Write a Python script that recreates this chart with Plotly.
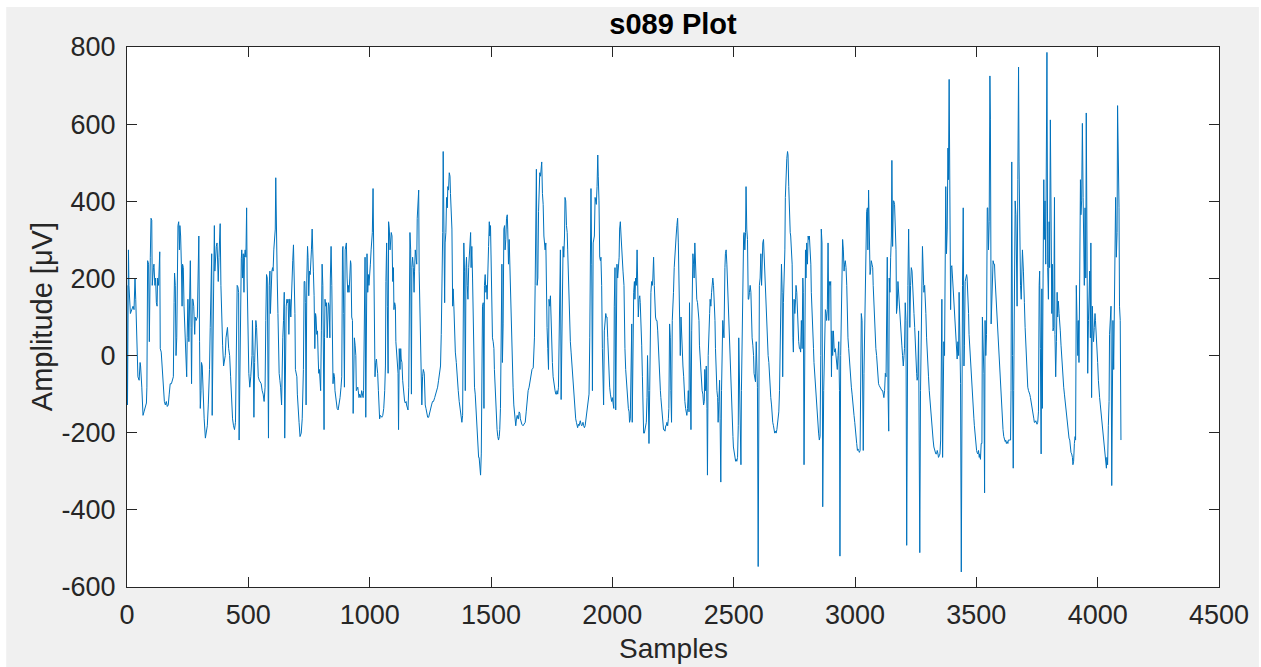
import plotly.graph_objects as go

samples = [
0,2,6,8,14,19,25,29,33,36,41,45,50,54,56,61,66,70,76,80,82,85,89,92,96,99,102,104,109,111,115,118,121,124,126,130,135,137,141,146,150,154,158,162,166,170,174,178,183,187,191,194,196,199,202,205,207,210,213,216,218,221,224,227,229,232,235,239,242,246,248,251,255,258,261,264,266,269,272,275,279,281,285,290,294,296,299,302,305,307,310,314,318,323,327,331,335,338,340,343,346,349,351,354,357,360,362,365,368,371,373,376,379,381,384,387,390,394,398,402,
405,408,412,414,419,423,427,431,435,439,443,447,451,454,457,460,462,465,468,471,473,476,479,482,484,487,490,493,495,498,502,506,510,515,517,520,523,526,528,531,534,536,541,545,549,553,557,561,565,569,572,575,578,580,583,586,589,591,594,597,600,602,605,608,611,613,616,619,622,624,627,630,633,637,639,642,645,648,650,653,656,659,661,664,667,670,672,675,678,681,683,686,689,692,694,697,700,702,705,709,713,718,722,724,727,730,733,735,738,741,744,746,749,752,755,757,760,763,766,768,771,774,777,779,782,785,788,790,793,796,798,801,804,807,809,812,
814,816,819,822,825,827,830,833,836,838,841,844,847,849,852,855,857,862,866,870,874,878,882,885,888,890,893,896,899,901,904,907,910,912,915,918,921,923,926,929,932,934,937,940,943,945,948,951,953,956,959,962,964,967,970,973,975,978,981,984,986,989,992,995,997,1000,1003,1006,1008,1011,1014,1017,1019,1022,1025,1028,1030,1033,1036,1039,1041,1044,1047,1050,1054,1058,1062,1065,1067,1070,1073,1076,1078,1081,1084,1087,1089,1092,1095,1098,1100,1103,1106,1108,1111,1114,1117,1119,1122,1125,1128,1130,1133,1136,1139,1141,1144,1147,1150,1152,1155,1158,1161,1163,1166,1169,1172,1174,1177,1180,1183,1185,1188,1191,1194,1196,1199,1202,1204,1207,1210,1213,1215,1218,1221,1225,
1226,1229,1232,1235,1239,1243,1247,1251,1255,1259,1263,1268,1272,1276,1280,1284,1288,1292,1295,1298,1301,1303,1306,1309,1311,1314,1317,1320,1322,1325,1328,1331,1333,1336,1339,1342,1344,1347,1350,1353,1357,1361,1365,1369,1373,1377,1380,1383,1386,1388,1391,1394,1397,1399,1402,1405,1408,1410,1413,1416,1418,1421,1424,1427,1429,1432,1435,1438,1440,1443,1446,1449,1451,1454,1457,1460,1462,1465,1468,1471,1473,1476,1479,1482,1484,1487,1490,1493,1495,1498,1501,1504,1506,1509,1512,1514,1517,1520,1523,1525,1528,1531,1534,1536,1539,1542,1545,1547,1550,1553,1556,1558,1561,1564,1567,1569,1572,1575,1578,1580,1583,1586,1589,1591,1594,1597,1600,1602,1605,1608,1611,1613,1616,1619,1621,1624,1627,1632,1637,
1641,1645,1649,1653,1657,1661,1665,1669,1674,1676,1679,1682,1685,1687,1690,1693,1696,1698,1701,1704,1707,1709,1712,1715,1718,1720,1723,1726,1728,1731,1734,1737,1739,1742,1745,1748,1750,1753,1756,1759,1761,1764,1767,1770,1772,1775,1778,1781,1783,1786,1789,1792,1794,1797,1800,1803,1805,1808,1811,1814,1816,1819,1822,1824,1827,1830,1833,1835,1838,1841,1844,1846,1849,1852,1855,1857,1860,1863,1866,1868,1871,1874,1877,1879,1882,1885,1888,1890,1893,1896,1899,1901,1904,1907,1910,1912,1915,1918,1921,1923,1926,1929,1932,1934,1937,1940,1942,1945,1948,1951,1953,1956,1959,1962,1964,1967,1970,1973,1975,1978,1981,1984,1986,1989,1992,1995,1997,2000,2003,2006,2008,2011,2014,2017,2019,2022,2025,2028,2030,2033,2036,2038,2041,2044,2048,
2049,2052,2055,2058,2060,2063,2066,2069,2071,2074,2077,2080,2082,2085,2088,2091,2093,2096,2099,2102,2104,2107,2110,2113,2115,2118,2121,2124,2126,2129,2132,2134,2137,2140,2143,2145,2148,2151,2154,2156,2159,2162,2165,2167,2170,2173,2176,2178,2181,2184,2187,2189,2192,2195,2198,2200,2203,2206,2209,2211,2214,2217,2220,2222,2225,2228,2231,2233,2236,2239,2241,2244,2247,2250,2252,2255,2258,2261,2263,2266,2269,2272,2274,2277,2280,2283,2285,2288,2291,2294,2296,2299,2302,2305,2307,2310,2313,2316,2318,2321,2324,2327,2329,2332,2335,2337,2340,2343,2346,2348,2351,2354,2357,2359,2362,2365,2368,2370,2373,2376,2379,2381,2384,2387,2390,2392,2395,2398,2401,2403,2406,2409,2412,2414,2417,2420,2423,2425,2428,2431,2434,2436,2439,2442,2444,2447,2450,2453,2455,2460,
2461,2464,2466,2469,2472,2475,2477,2480,2483,2486,2488,2491,2494,2497,2499,2502,2505,2508,2510,2513,2516,2519,2521,2524,2527,2530,2532,2535,2538,2541,2543,2546,2549,2551,2554,2557,2560,2562,2565,2568,2571,2573,2576,2579,2582,2584,2587,2590,2593,2595,2598,2601,2604,2606,2609,2612,2615,2617,2620,2623,2626,2628,2631,2634,2637,2639,2642,2645,2647,2650,2653,2656,2658,2661,2664,2667,2669,2672,2675,2678,2680,2683,2686,2689,2691,2694,2697,2700,2702,2705,2708,2711,2713,2716,2719,2722,2724,2727,2730,2733,2735,2738,2741,2744,2746,2749,2752,2755,2757,2760,2763,2765,2768,2771,2774,2776,2779,2782,2785,2787,2790,2793,2796,2798,2801,2804,2807,2809,2812,2815,2818,2820,2823,2826,2829,2831,2834,2837,2840,2842,2845,2848,2850,2853,2856,2859,2861,2864,2867,2871,
2872,2875,2878,2881,2883,2886,2889,2892,2894,2897,2900,2903,2905,2908,2911,2914,2916,2919,2922,2925,2927,2930,2933,2936,2938,2941,2944,2947,2949,2952,2955,2957,2960,2963,2966,2968,2971,2974,2977,2979,2982,2985,2988,2990,2993,2996,2999,3001,3004,3007,3010,3012,3015,3018,3021,3023,3026,3029,3032,3034,3037,3040,3043,3045,3048,3051,3053,3056,3059,3062,3064,3067,3070,3073,3075,3078,3081,3084,3086,3089,3092,3095,3097,3100,3103,3106,3108,3111,3114,3117,3119,3122,3125,3128,3130,3133,3136,3139,3141,3144,3147,3150,3152,3155,3158,3160,3163,3166,3169,3171,3174,3177,3180,3182,3185,3188,3191,3193,3196,3199,3202,3204,3207,3210,3213,3215,3218,3221,3224,3226,3229,3232,3235,3237,3240,3243,3246,3248,3251,3254,3256,3259,3262,3265,3267,3270,3273,3276,3278,3283,
3284,3287,3289,3292,3295,3298,3300,3303,3306,3309,3311,3314,3317,3320,3322,3325,3328,3331,3333,3336,3339,3342,3344,3347,3350,3353,3355,3358,3361,3364,3366,3369,3372,3374,3377,3380,3383,3385,3388,3391,3394,3396,3399,3402,3405,3407,3410,3413,3416,3418,3421,3424,3427,3429,3432,3435,3438,3440,3443,3446,3449,3451,3454,3457,3460,3462,3465,3468,3470,3473,3476,3479,3481,3484,3487,3490,3492,3495,3498,3501,3503,3506,3509,3512,3514,3517,3520,3523,3525,3528,3531,3534,3536,3539,3542,3545,3547,3550,3553,3556,3558,3561,3564,3567,3569,3572,3575,3577,3580,3583,3586,3588,3591,3594,3597,3599,3602,3605,3608,3610,3613,3616,3619,3621,3624,3627,3630,3632,3635,3638,3641,3643,3646,3649,3652,3654,3657,3660,3663,3665,3668,3671,3674,3676,3679,3682,3685,3687,3690,3694,
3695,3698,3701,3704,3706,3709,3712,3715,3717,3720,3723,3726,3728,3731,3734,3737,3739,3742,3745,3748,3750,3753,3756,3759,3761,3764,3767,3770,3772,3775,3778,3780,3783,3786,3789,3791,3794,3797,3800,3802,3805,3808,3811,3813,3816,3819,3822,3824,3827,3830,3833,3835,3838,3841,3844,3846,3849,3852,3854,3857,3860,3863,3866,3868,3871,3874,3877,3879,3882,3885,3887,3890,3893,3896,3898,3901,3904,3907,3909,3912,3915,3918,3920,3923,3926,3929,3931,3934,3937,3940,3942,3945,3948,3951,3953,3956,3959,3962,3964,3967,3970,3972,3975,3978,3981,3983,3986,3989,3991,3994,3997,4000,4003,4005,4008,4011,4014,4016,4019,4022,4025,4027,4030,4033,4036,4038,4041,4044,4047,4049,4052,4055,4058,4060,4063,4066,4069,4071,4074,4077,4080,4082,4085,4088,4090,4093,4096,
]

amplitude_uv = [
182,-128,274,182,109,119,128,119,201,146,55,-55,-64,-18,-27,-82,-155,-146,-132,-123,-82,246,237,36,255,356,351,182,228,237,182,201,137,128,201,182,269,18,9,-46,-91,-119,-128,-119,-132,-128,-100,-73,-73,-64,-55,137,214,182,0,46,333,337,347,274,337,310,237,128,237,228,128,36,-27,-55,46,146,36,237,246,73,-73,146,146,128,55,100,91,100,201,310,36,-137,-91,-18,-27,-109,-164,-214,-192,-182,-128,-91,-36,73,246,264,-155,0,228,337,219,274,283,292,201,192,255,283,342,182,91,27,-27,0,
0,46,64,73,18,0,-55,-119,-164,-182,-192,-173,0,182,178,164,-219,0,246,251,274,201,264,164,255,274,255,383,201,46,-46,-82,-55,0,91,0,-160,-18,27,91,73,18,-55,-64,-68,-73,-91,-100,-119,-82,91,210,201,73,-214,182,219,109,182,219,228,219,274,319,328,461,274,201,109,27,-46,-64,-82,-128,-18,46,91,164,-214,55,128,146,137,146,55,146,146,100,182,237,246,287,228,109,-36,-55,-55,-100,-146,-173,-210,-201,-164,-128,-36,192,192,137,-128,201,283,255,155,219,210,228,274,328,283,219,155,18,109,100,55,64,-9,-46,-36,-64,-91,64,237,182,0,-192,
46,146,128,137,46,128,137,128,46,201,283,182,73,-73,-46,-55,-91,-119,-137,-141,-128,-109,-82,-55,274,283,109,-82,274,283,292,201,164,182,164,201,246,237,100,91,-150,36,46,27,0,-91,-82,-82,-91,-109,-100,-109,-109,-91,-109,-109,-91,255,255,-160,246,264,164,210,182,201,237,274,310,319,433,182,46,-55,-18,-9,-27,-46,-91,-137,-164,-155,-160,-160,-155,-137,-91,-27,192,292,128,-46,347,328,274,292,319,310,192,228,119,137,128,36,9,-27,-46,-192,18,-36,18,-9,-18,-64,-91,-109,-119,-123,-119,-128,-137,-141,-82,27,319,274,-100,228,255,228,164,219,274,255,237,356,392,429,219,91,-9,-46,-128,-55,-36,-46,
-91,-128,-137,-146,-160,-160,-146,-137,-128,-119,-119,-109,-100,-91,-82,-64,-46,-27,55,146,319,529,274,137,292,319,410,383,438,429,474,465,420,347,328,128,173,128,18,9,-18,-64,-91,-119,-146,-164,-173,-155,137,292,219,-91,228,255,182,146,228,255,274,319,228,283,201,64,-64,-82,-100,-137,-182,-228,-246,-264,-264,-287,-310,-255,-91,128,137,-137,182,210,164,182,146,274,283,347,310,337,219,192,46,36,18,-36,-91,-146,-173,-192,-210,-219,-210,-192,-137,46,237,-18,82,328,337,274,301,356,365,328,237,301,228,128,73,18,-46,-82,-128,-155,-164,-182,-164,-155,-164,-164,-146,-150,-164,-173,-178,-182,-178,
-173,-146,-109,-91,-82,-64,-46,-36,-32,0,46,182,438,483,182,201,374,456,474,465,492,502,420,392,310,301,274,292,164,73,18,-36,146,128,155,55,18,-18,-55,-73,-82,-91,-100,-100,-91,-100,-82,128,264,274,-114,91,274,283,255,310,410,401,337,319,274,201,100,36,36,9,-18,-55,-73,-100,-137,-155,-164,-173,-182,-187,-178,-182,-173,-169,-178,-182,-178,-173,-182,-187,-182,-173,-155,-137,-128,-119,-100,46,201,433,237,-91,292,310,310,410,401,392,438,520,465,401,255,246,255,182,18,-55,-128,64,91,109,100,100,46,-27,-55,-82,-100,-109,-119,-109,-128,-137,128,228,-141,73,237,201,219,255,328,347,310,274,237,219,182,
109,18,-36,-64,-91,-119,-137,-146,-173,-164,-73,82,-173,46,164,192,146,201,182,274,182,100,146,155,137,91,27,-55,-128,-201,-201,-192,-192,-173,-109,0,-91,-228,-91,73,164,192,182,201,255,182,109,100,91,91,64,27,-18,-55,-91,-109,-128,-155,-182,-192,-192,-196,-182,-182,-173,-182,-164,-137,82,46,-91,-173,91,128,164,228,274,283,310,337,356,292,237,109,0,100,55,36,-27,-55,-91,-119,-137,-146,-155,-137,-91,-146,137,-27,-192,64,255,264,237,201,292,228,192,146,137,109,91,27,-9,-46,-73,-91,-100,-128,-119,-36,-91,-27,-137,-310,0,109,109,146,128,164,192,201,182,146,91,18,-55,-91,-109,-173,-119,-64,-164,-328,-91,73,91,46,
146,228,264,274,237,182,109,46,0,-46,-91,-137,-173,-210,-237,-255,-274,-274,-269,-274,-264,-182,46,-46,-109,-283,-91,91,228,310,319,274,319,438,328,301,146,146,164,182,164,91,46,27,0,-46,-55,-68,36,0,-82,-547,-82,182,201,264,182,255,292,301,255,192,146,109,64,36,0,-18,-55,-82,-109,-128,-155,-173,-182,-196,-201,-196,-201,-192,-182,-173,-146,-91,0,182,237,164,-55,137,201,274,410,474,511,529,520,438,337,319,310,283,237,46,9,146,109,146,182,164,109,64,36,18,18,9,91,18,201,164,-283,36,274,201,292,237,310,301,310,274,237,164,91,46,18,-18,-46,-82,-109,-146,-164,-182,-201,-219,-210,0,328,292,-392,-91,
-46,-36,119,109,91,119,292,91,192,182,192,-55,64,0,64,18,9,18,0,-18,-36,0,36,-91,-520,0,91,228,301,274,219,237,246,228,182,109,46,18,-18,-36,-55,-82,-100,-119,-137,-155,-173,-192,-210,-228,-246,-242,-246,-251,-246,-91,109,91,-46,-246,-46,91,264,365,374,383,274,429,274,210,219,246,237,228,182,128,91,55,18,0,-36,-64,-73,-78,-82,-82,-87,-91,-91,-100,-109,-91,-46,-55,64,255,-91,-196,201,164,255,310,506,283,401,401,392,310,274,109,128,192,155,146,119,91,46,27,0,-27,0,18,137,91,-492,36,182,328,228,73,182,228,219,182,146,109,73,27,-18,-46,-64,-55,64,-219,-511,-91,91,274,283,182,
164,182,164,109,46,18,-18,-55,-91,-119,-137,-164,-182,-201,-219,-237,-246,-251,-255,-255,-246,-255,-264,-260,-255,-219,-109,146,-264,18,36,0,292,438,264,328,538,456,716,182,119,228,233,201,164,128,91,55,18,0,-9,36,0,164,-18,-73,-561,73,182,383,-27,27,192,201,210,201,164,109,55,18,-18,-55,-91,-128,-146,-164,-182,-210,-228,-246,-251,-255,-246,-264,-255,-269,-228,-228,100,46,-46,-356,91,0,55,383,383,274,347,725,611,82,164,210,246,237,237,201,164,128,91,55,18,-18,-55,-82,-109,-146,-173,-192,-210,-219,-223,-219,-228,-223,-228,-219,-219,-219,-219,-91,502,0,-292,-91,91,401,365,182,128,456,748,502,255,182,146,274,274,219,
182,137,73,27,-18,-55,-82,-91,-100,-100,-109,-119,-128,-137,-155,-164,-173,-173,-169,-173,-178,-173,-146,182,219,18,-255,173,-137,201,456,301,401,237,502,786,228,146,347,228,611,219,109,237,64,73,410,55,-55,36,164,100,141,109,91,64,27,-9,-36,-64,-82,-100,-119,-137,-155,-173,-192,-210,-214,-219,-237,-251,-255,-264,-283,-274,-228,-210,-219,182,91,0,91,-18,201,456,365,401,602,410,310,182,383,201,629,347,-46,91,182,219,46,292,-109,128,64,36,73,109,91,36,18,-18,-64,-91,-109,-128,-146,-164,-182,-201,-219,-237,-255,-274,-292,-264,-283,-182,-119,55,91,128,-337,36,91,-36,182,274,410,255,319,648,547,383,128,91,-219,
]

x_ticks = list(range(0, 4501, 500))
y_ticks = list(range(-600, 801, 200))
y_tick_text = [str(v) for v in y_ticks]  # ASCII hyphen minus as in the original

fig = go.Figure()
fig.add_trace(go.Scatter(
    x=samples, y=amplitude_uv, mode="lines",
    line=dict(color="#0072BD", width=1),
    hoverinfo="skip", showlegend=False,
))

font_family = "Liberation Sans, Arial, Helvetica, sans-serif"
axis_color = "#262626"

# paper is white with a grey figure panel, as in the original window capture
fig.add_shape(type="rect", xref="paper", yref="paper",
              x0=(6 - 127) / 1094, x1=(1261 - 127) / 1094,
              y0=(587 - 667) / 540, y1=(587 - 7) / 540,
              fillcolor="#f0f0f0", line=dict(width=0), layer="below")
fig.add_shape(type="rect", xref="paper", yref="paper", x0=0, x1=1, y0=0, y1=1,
              fillcolor="#ffffff", line=dict(width=0), layer="below")

fig.update_layout(
    width=1261, height=667,
    paper_bgcolor="#ffffff", plot_bgcolor="#ffffff",
    margin=dict(l=127, r=40, t=47, b=80),
    font=dict(family=font_family, size=28, color=axis_color),
    title=dict(text="<b>s089 Plot</b>", x=0.5, xref="paper", y=1 - 24 / 667, yref="container",
               xanchor="center", yanchor="middle", font=dict(size=29, color="#000000")),
    showlegend=False,
)

fig.update_xaxes(
    range=[0, 4500], tickvals=x_ticks,
    showgrid=False, zeroline=False, showline=True, linecolor=axis_color, linewidth=1,
    mirror="ticks", ticks="inside", ticklen=10, tickcolor=axis_color,
    tickfont=dict(size=27, color=axis_color), ticklabelstandoff=4,
)
fig.update_yaxes(
    range=[-600, 800], tickvals=y_ticks, ticktext=y_tick_text,
    showgrid=False, zeroline=False, showline=True, linecolor=axis_color, linewidth=1,
    mirror="ticks", ticks="inside", ticklen=10, tickcolor=axis_color,
    tickfont=dict(size=27, color=axis_color), ticklabelstandoff=5,
)

fig.add_annotation(text="Samples", xref="paper", yref="paper", x=0.5, y=-(649 - 587) / 540,
                   xanchor="center", yanchor="middle", showarrow=False,
                   font=dict(size=28, color=axis_color))
fig.add_annotation(text="Amplitude [μV]", xref="paper", yref="paper", x=(42 - 127) / 1094, y=(587 - 317) / 540,
                   xanchor="center", yanchor="middle", textangle=-90, showarrow=False,
                   font=dict(size=29, color=axis_color))

fig.write_html("out.html")
